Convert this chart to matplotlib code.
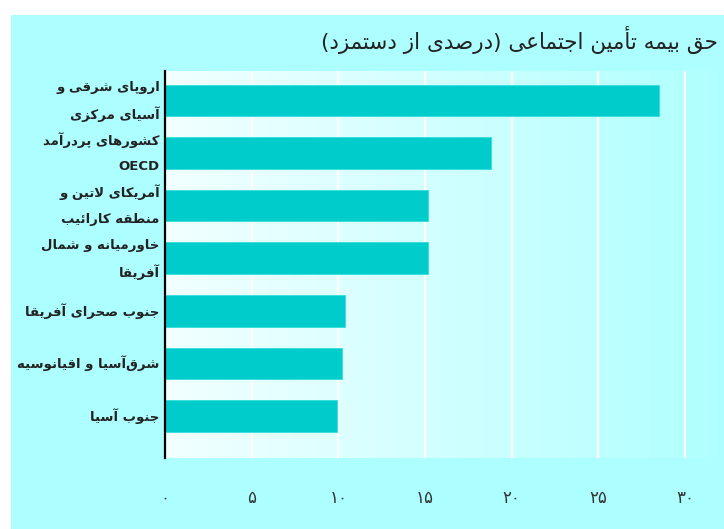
import matplotlib
matplotlib.use("Agg")
import matplotlib.pyplot as plt
import numpy as np
from matplotlib.patches import Rectangle
from matplotlib.colors import LinearSegmentedColormap

# ---------------- data ----------------
title = "حق بیمه تأمین اجتماعی (درصدی از دستمزد)"
categories = [
    ["اروپای شرقی و", "آسیای مرکزی"],
    ["کشورهای پردرآمد", "OECD"],
    ["آمریکای لاتین و", "منطقه کارائیب"],
    ["خاورمیانه و شمال", "آفریقا"],
    ["جنوب صحرای آفریقا"],
    ["شرق\u200cآسیا و اقیانوسیه"],
    ["جنوب آسیا"],
]
values = [28.5, 18.8, 15.2, 15.2, 10.4, 10.2, 9.9]
xticks = [0, 5, 10, 15, 20, 25, 30]
xticklabels = ["۰", "۵", "۱۰", "۱۵", "۲۰", "۲۵", "۳۰"]

# ---------------- minimal Persian shaping ----------------
DUAL = {'ئ': 0xFE89, 'ب': 0xFE8F, 'ت': 0xFE95, 'ث': 0xFE99, 'ج': 0xFE9D, 'ح': 0xFEA1,
        'خ': 0xFEA5, 'س': 0xFEB1, 'ش': 0xFEB5, 'ص': 0xFEB9, 'ض': 0xFEBD, 'ط': 0xFEC1,
        'ظ': 0xFEC5, 'ع': 0xFEC9, 'غ': 0xFECD, 'ف': 0xFED1, 'ق': 0xFED5, 'ك': 0xFED9,
        'ل': 0xFEDD, 'م': 0xFEE1, 'ن': 0xFEE5, 'ه': 0xFEE9, 'ي': 0xFEF1, 'پ': 0xFB56,
        'چ': 0xFB7A, 'ک': 0xFB8E, 'گ': 0xFB92, 'ی': 0xFBFC}
RIGHT = {'آ': 0xFE81, 'أ': 0xFE83, 'ؤ': 0xFE85, 'إ': 0xFE87, 'ا': 0xFE8D, 'د': 0xFEA9,
         'ذ': 0xFEAB, 'ر': 0xFEAD, 'ز': 0xFEAF, 'ژ': 0xFB8A, 'و': 0xFEED, 'ة': 0xFE93}
LAMALEF = {'ا': (0xFEFB, 0xFEFC), 'آ': (0xFEF5, 0xFEF6), 'أ': (0xFEF7, 0xFEF8),
           'إ': (0xFEF9, 0xFEFA)}
MIRROR = {'(': ')', ')': '('}


def fa(s):
    if not any(c in DUAL or c in RIGHT for c in s):
        return s
    tokens = []
    i = 0
    while i < len(s):
        c = s[i]
        if c == 'ل' and i + 1 < len(s) and s[i + 1] in LAMALEF:
            tokens.append(('LA', s[i + 1]))
            i += 2
        else:
            tokens.append(c)
            i += 1
    out = []
    for k, t in enumerate(tokens):
        prev = tokens[k - 1] if k > 0 else None
        nxt = tokens[k + 1] if k + 1 < len(tokens) else None
        pc = isinstance(prev, str) and prev in DUAL
        if isinstance(t, tuple):
            iso, fin = LAMALEF[t[1]]
            out.append(chr(fin if pc else iso))
        elif t in DUAL:
            nc = nxt is not None and (isinstance(nxt, tuple) or nxt in DUAL or nxt in RIGHT)
            b = DUAL[t]
            g = b + 3 if (pc and nc) else b + 1 if pc else b + 2 if nc else b
            out.append(chr(g))
        elif t in RIGHT:
            b = RIGHT[t]
            out.append(chr(b + 1 if pc else b))
        elif t == '\u200c':
            continue
        else:
            out.append(MIRROR.get(t, t))
    out = out[::-1]
    res, run = [], []
    for c in out:
        if c.isascii() and c.isalnum():
            run.append(c)
        else:
            if run:
                res.extend(run[::-1]); run = []
            res.append(c)
    if run:
        res.extend(run[::-1])
    return ''.join(res)


# ---------------- figure ----------------
W, H = 724, 529
fig = plt.figure(figsize=(W / 100, H / 100), dpi=100, facecolor='white')
fig.patches.append(Rectangle((11 / W, 0), 1, 1 - 15 / H, transform=fig.transFigure,
                             facecolor='#adffff', edgecolor='none', zorder=-10))

ax_l, ax_r, ax_t, ax_b = 165, 718, 71, 458
ax = fig.add_axes([ax_l / W, 1 - ax_b / H, (ax_r - ax_l) / W, (ax_b - ax_t) / H])
ax.set_facecolor('none')

xmax = 31.9
n = len(values)
ylo, yhi = n - 1 + 0.8, -0.56

grad = np.linspace(0, 1, 256).reshape(1, -1)
cmap = LinearSegmentedColormap.from_list('g', ['#f2ffff', '#b0ffff'])
ax.imshow(grad, cmap=cmap, aspect='auto', extent=[0, xmax, ylo, yhi], zorder=0)

for xv in xticks[1:]:
    ax.axvline(xv, color='white', lw=1.6, zorder=1)

y = np.arange(n)
ax.barh(y, values, height=0.6, color='#00cccc', edgecolor='#33dddd', lw=0.6, zorder=2)

ax.set_xlim(0, xmax)
ax.set_ylim(ylo, yhi)
for s in ['top', 'right', 'bottom']:
    ax.spines[s].set_visible(False)
ax.spines['left'].set_color('black')
ax.spines['left'].set_linewidth(1.6)
ax.spines['left'].set_zorder(3)
ax.set_yticks([])
ax.set_xticks(xticks)
ax.set_xticklabels(xticklabels, fontsize=12, family='DejaVu Sans', color='#333333')
ax.tick_params(axis='x', length=0, pad=22)

for i, lines in enumerate(categories):
    offs = [0.0] if len(lines) == 1 else [-0.25, 0.26]
    for line, o in zip(lines, offs):
        ax.text(-0.3, i + o, fa(line), ha='right', va='center', fontsize=9.5,
                family='DejaVu Sans', fontweight='bold', color='#222222', zorder=5,
                clip_on=False)

fig.text(718 / W, 1 - 40 / H, fa(title), ha='right', va='center', fontsize=15.5,
         family='DejaVu Sans', color='#222222')

fig.savefig('out.png', dpi=100, facecolor=fig.get_facecolor())
